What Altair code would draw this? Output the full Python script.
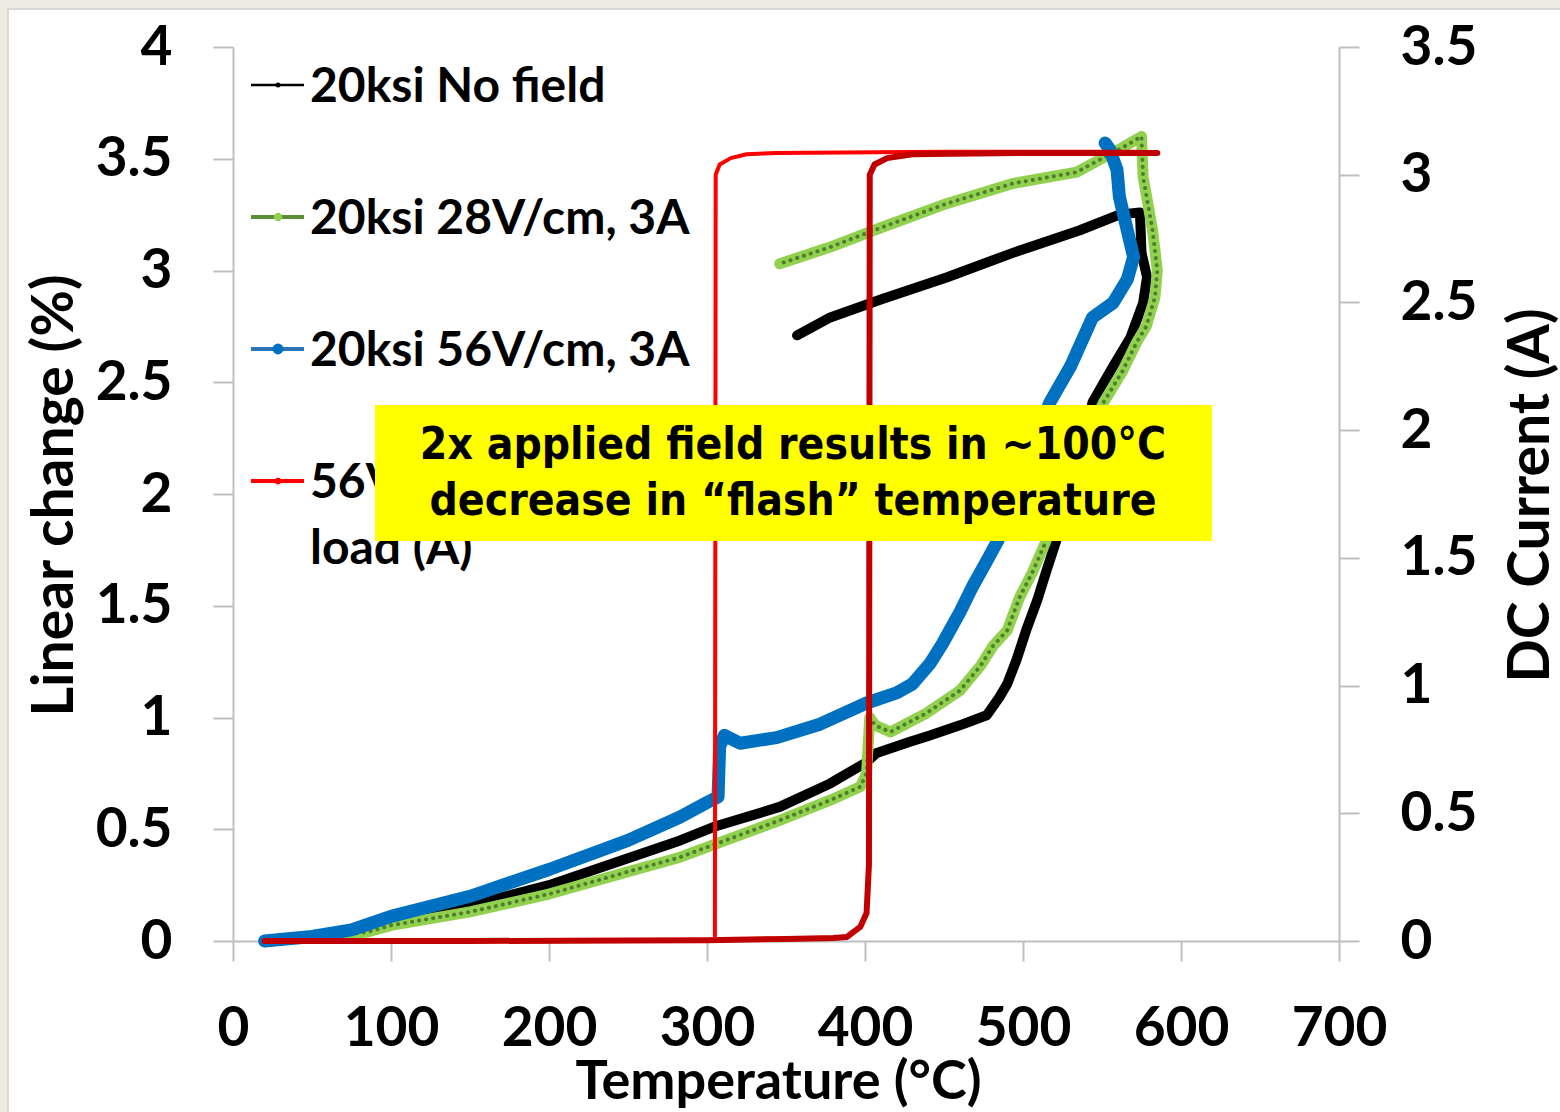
import altair as alt
import pandas as pd

# ---- Dilatometry traces: temperature (°C) vs linear change (%), heating then cooling ----
nofield_T = [20, 40, 60, 80, 100, 150, 200, 250, 283, 304, 346, 378, 401, 407, 428, 441, 460, 477,
             485, 490, 496, 502, 509, 515, 521, 533, 544, 557, 568, 576, 578.5, 575, 574,
             561, 536, 494, 452, 410, 378, 357]
nofield_L = [0, 0.013, 0.027, 0.05, 0.09, 0.16, 0.25, 0.37, 0.45, 0.51, 0.60, 0.705, 0.80, 0.84, 0.89, 0.92, 0.965, 1.01,
             1.09, 1.15, 1.26, 1.39, 1.525, 1.66, 1.79, 2.06, 2.41, 2.57, 2.70, 2.855, 2.97, 3.08, 3.26,
             3.25, 3.18, 3.08, 2.97, 2.87, 2.79, 2.71]

f28_T = [20, 50, 85, 100, 150, 200, 250, 283, 304, 346, 378, 397, 401, 403, 406.5, 416, 439, 460, 473,
         481, 490, 498, 506, 514, 530, 551, 563, 572, 578, 583.5, 585, 582, 576, 575,
         563, 547, 534, 494, 452, 409.5, 378, 346]
f28_L = [0, 0.015, 0.04, 0.07, 0.13, 0.21, 0.31, 0.375, 0.43, 0.54, 0.63, 0.69, 0.75, 1.00, 0.965, 0.935, 1.02, 1.12, 1.23,
         1.32, 1.39, 1.54, 1.65, 1.78, 2.10, 2.41, 2.55, 2.68, 2.75, 2.88, 3.00, 3.18, 3.42, 3.60,
         3.55, 3.49, 3.44, 3.39, 3.30, 3.19, 3.105, 3.03]

f56_T = [20, 50, 75, 100, 150, 200, 250, 283, 300, 307, 308, 311, 321, 344, 371.5, 401, 420, 430, 441,
         449, 460, 468, 477, 484, 500, 517, 530, 544, 557, 566, 570, 566, 561, 559.5, 555, 552]
f56_L = [0, 0.02, 0.05, 0.11, 0.20, 0.32, 0.45, 0.555, 0.62, 0.645, 0.87, 0.92, 0.885, 0.91, 0.97, 1.065, 1.11, 1.15, 1.24,
         1.33, 1.47, 1.585, 1.70, 1.79, 2.10, 2.41, 2.57, 2.79, 2.855, 2.96, 3.06, 3.18, 3.33, 3.45, 3.54, 3.57]

# ---- DC current under load (A) ----
cur56_T = [20, 150, 250, 300, 305, 305.5, 308, 315, 325, 344, 450, 575]
cur56_A = [0, 0, 0, 0, 0, 3.0, 3.04, 3.065, 3.08, 3.085, 3.09, 3.09]

cur28_T = [20, 150, 250, 300, 350, 380, 388.6, 397, 401, 402.5, 403, 406, 414, 430, 500, 585]
cur28_A = [0, 0, 0.002, 0.003, 0.008, 0.012, 0.016, 0.055, 0.11, 0.30, 3.0, 3.04, 3.065, 3.08, 3.085, 3.085]

legend_labels = ["20ksi No field", "20ksi 28V/cm, 3A", "20ksi 56V/cm, 3A", "56V/cm, 3A current", "load (A)"]
note_lines = ["2x applied field results in ~100°C", "decrease in “flash” temperature"]

FONT = "Lato"
NOTE_FONT = "'Liberation Sans Narrow', 'DejaVu Sans Condensed', Roboto"
AXIS_GRAY = "#BFBFBF"
FRAME = "#EEECE1"


def trace(T, v):
    return pd.DataFrame({"T": T, "v": v, "i": list(range(len(T)))})


T_SCALE = alt.Scale(domain=[0, 700], nice=False)
L_SCALE = alt.Scale(domain=[0, 4], nice=False)
A_SCALE = alt.Scale(domain=[0, 3.5], nice=False)

# one shared x axis definition, used by every data layer
x_axis = alt.X("T:Q", scale=T_SCALE,
               axis=alt.Axis(values=list(range(0, 701, 100)), title="Temperature (°C)",
                             titleX=545, titleY=157, titleBaseline="alphabetic", titleAlign="center",
                             titleFontSize=54, labelPadding=41, labelBaseline="top"))

y_left = alt.Y("v:Q", scale=L_SCALE,
               axis=alt.Axis(values=[i * 0.5 for i in range(9)], format="~g", title="Linear change (%)",
                             titleAngle=270, titleX=-161, titleY=448, titleAlign="center",
                             titleBaseline="alphabetic", labelPadding=41))
y_left_plain = alt.Y("v:Q", scale=L_SCALE, axis=None)

y_right = alt.Y("v:Q", scale=A_SCALE,
                axis=alt.Axis(orient="right", values=[i * 0.5 for i in range(8)], format="~g",
                              title="DC Current (A)", titleAngle=270, titleX=209, titleY=448,
                              titleAlign="center", titleBaseline="alphabetic", labelPadding=41))
y_right_plain = alt.Y("v:Q", scale=A_SCALE, axis=None)

order = alt.Order("i:Q")

black = alt.Chart(trace(nofield_T, nofield_L)).mark_line(
    color="#000000", strokeWidth=10, strokeJoin="round", strokeCap="round"
).encode(x=x_axis, y=y_left, order=order)

green = alt.Chart(trace(f28_T, f28_L)).mark_line(
    color="#92D050", strokeWidth=11, strokeJoin="round", strokeCap="round"
).encode(x=x_axis, y=y_left_plain, order=order)

green_dots = alt.Chart(trace(f28_T, f28_L)).mark_line(
    color="#4F7F2A", strokeWidth=4, strokeDash=[0.1, 7], strokeCap="round", strokeJoin="round"
).encode(x=x_axis, y=y_left_plain, order=order)

blue = alt.Chart(trace(f56_T, f56_L)).mark_line(
    color="#0070C0", strokeWidth=13, strokeJoin="round", strokeCap="round"
).encode(x=x_axis, y=y_left_plain, order=order)

red56 = alt.Chart(trace(cur56_T, cur56_A)).mark_line(
    color="#FF0000", strokeWidth=4, strokeJoin="round", strokeCap="round"
).encode(x=x_axis, y=y_right, order=order)

red28 = alt.Chart(trace(cur28_T, cur28_A)).mark_line(
    color="#C00000", strokeWidth=6, strokeJoin="round", strokeCap="round"
).encode(x=x_axis, y=y_right_plain, order=order)

dummy = pd.DataFrame({"a": [0]})

# beige slide frame along the top and left edges
frame_top = alt.Chart(dummy).mark_rect(color=FRAME).encode(
    x=alt.value(-233), x2=alt.value(1330), y=alt.value(-47), y2=alt.value(-39))
frame_left = alt.Chart(dummy).mark_rect(color=FRAME).encode(
    x=alt.value(-233), x2=alt.value(-226), y=alt.value(-47), y2=alt.value(1070))
frame_edge_top = alt.Chart(dummy).mark_rule(color="#D9D9D9", strokeWidth=2).encode(
    x=alt.value(-226), x2=alt.value(1330), y=alt.value(-38))
frame_edge_left = alt.Chart(dummy).mark_rule(color="#D9D9D9", strokeWidth=2).encode(
    x=alt.value(-225), y=alt.value(-38), y2=alt.value(1070))

# hand-built legend: line + marker + label
legend_rows = [
    (38, "#000000", 2.5, "#000000", 25, legend_labels[0]),
    (170, "#5B8E35", 4, "#92D050", 70, legend_labels[1]),
    (302, "#2E75B6", 4, "#0070C0", 120, legend_labels[2]),
    (434, "#FF0000", 4, "#FF0000", 45, legend_labels[3]),
]
legend_layers = []
for yy, lc, lw, mc, ms, label in legend_rows:
    legend_layers.append(alt.Chart(dummy).mark_rule(color=lc, strokeWidth=lw).encode(
        x=alt.value(18), x2=alt.value(71), y=alt.value(yy)))
    legend_layers.append(alt.Chart(dummy).mark_point(filled=True, color=mc, size=ms, opacity=1).encode(
        x=alt.value(45), y=alt.value(yy)))
    legend_layers.append(alt.Chart(dummy).mark_text(
        text=label, font=FONT, fontWeight="bold", fontSize=48, align="left", baseline="middle",
        color="#000000").encode(x=alt.value(77), y=alt.value(yy + 3)))
legend_layers.append(alt.Chart(dummy).mark_text(
    text=legend_labels[4], font=FONT, fontWeight="bold", fontSize=48, align="left", baseline="middle",
    color="#000000").encode(x=alt.value(77), y=alt.value(503)))

# highlighted note
note_box = alt.Chart(dummy).mark_rect(color="#FFFF00").encode(
    x=alt.value(142), x2=alt.value(979), y=alt.value(358), y2=alt.value(494))
note_text = [
    alt.Chart(dummy).mark_text(text=t, font=NOTE_FONT, fontWeight="bold", fontSize=44,
                               align="center", baseline="middle", color="#000000").encode(
        x=alt.value(560), y=alt.value(yy))
    for t, yy in zip(note_lines, [399, 455])
]

chart = alt.layer(
    black, green, green_dots, blue, red56, red28,
    frame_top, frame_left, frame_edge_top, frame_edge_left,
    *legend_layers, note_box, *note_text
).resolve_scale(y="independent").properties(
    width=1106, height=894,
    autosize="none",
    padding={"left": 233, "top": 47, "right": 221, "bottom": 171},
    background="#FFFFFF",
).configure_view(stroke=None).configure_axis(
    domainColor=AXIS_GRAY, domainWidth=2, tickColor=AXIS_GRAY, tickWidth=2, tickSize=20,
    grid=False, labelFont=FONT, labelFontWeight="bold", labelFontSize=55, labelColor="#000000",
    titleFont=FONT, titleFontWeight="bold", titleFontSize=57, titleColor="#000000",
    labelOverlap=False, labelFlush=False
)

chart.save("out.html", embed_options={"renderer": "svg", "actions": False})
